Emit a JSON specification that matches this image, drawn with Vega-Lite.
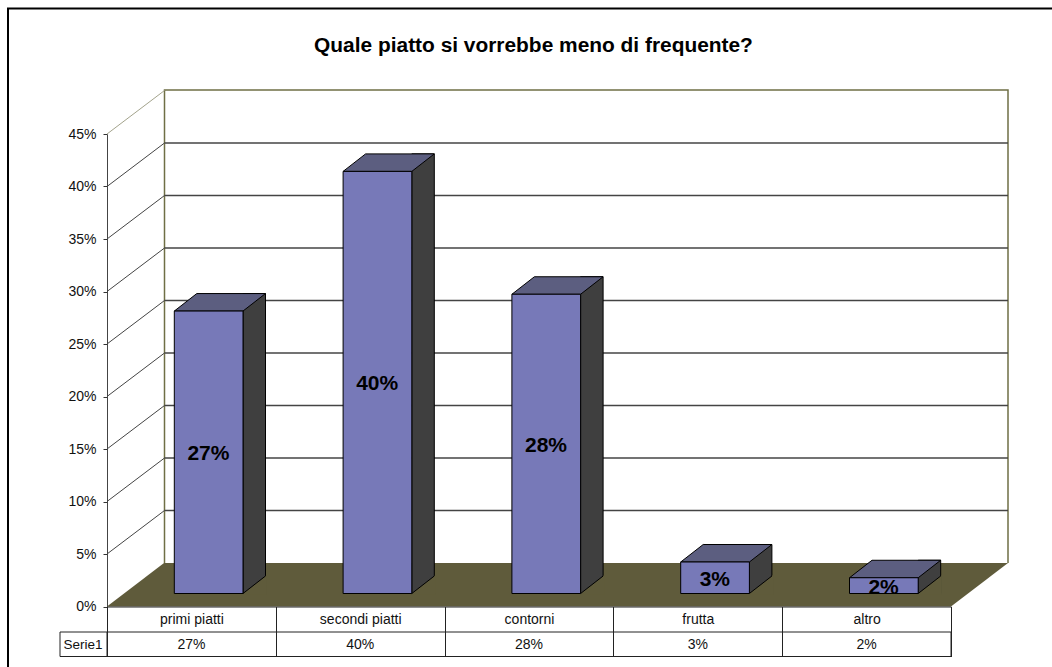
{
"$schema":"https://vega.github.io/schema/vega-lite/v6.json",
"width":844,"height":472.5,
"autosize":"none",
"padding":{"left":107,"top":134,"right":101,"bottom":60.5},
"background":"white",
"config":{"view":{"stroke":null},"font":"Liberation Sans"},
"title":{"text":"Quale piatto si vorrebbe meno di frequente?","font":"Liberation Sans","fontSize":20.9,"fontWeight":"bold","color":"black","anchor":"middle","dx":4.5,"offset":-51},
"data":{"values":[
{"categoria":"primi piatti","valore":0.269,"etichetta":"27%"},
{"categoria":"secondi piatti","valore":0.402,"etichetta":"40%"},
{"categoria":"contorni","valore":0.285,"etichetta":"28%"},
{"categoria":"frutta","valore":0.03,"etichetta":"3%"},
{"categoria":"altro","valore":0.015,"etichetta":"2%"}
]},
"encoding":{
"x":{"field":"categoria","type":"nominal","sort":null,"title":null,
"scale":{"type":"band","domain":["primi piatti","secondi piatti","contorni","frutta","altro"],"paddingInner":0,"paddingOuter":0},
"axis":{"labelAngle":0,"tickBand":"extent","tickSize":50,"labelPadding":-44,"labelFont":"Liberation Sans","labelFontSize":14,"labelColor":"#111","tickColor":"#222","domainColor":"#222","tickWidth":1,"domainWidth":1,"zindex":1}},
"y":{"field":"valore","type":"quantitative","title":null,
"scale":{"domain":[0,0.45],"nice":false},
"axis":{"values":[0,0.05,0.1,0.15,0.2,0.25,0.3,0.35,0.4,0.45],"format":".0%","grid":false,"tickSize":4,"tickColor":"#333","domainColor":"#444","labelFont":"Liberation Sans","labelFontSize":14,"labelColor":"#111","labelPadding":7}}
},
"layer":[
{"data":{"values":[{"livello":0}]},
"mark":{"type":"point","shape":"M0 0L57 -43.5H901L844 0Z","size":4,"filled":true,"fill":"#5f5b3b","strokeWidth":0,"opacity":1},
"encoding":{"x":{"datum":"primi piatti","bandPosition":0},"y":{"field":"livello","type":"quantitative"}}},
{"data":{"values":[{"livello":0}]},
"mark":{"type":"point","shape":"M57.5 -43.5V-516.5H901V-43.5","size":4,"filled":false,"stroke":"#6f6f45","strokeWidth":1.5,"opacity":1},
"encoding":{"x":{"datum":"primi piatti","bandPosition":0},"y":{"field":"livello","type":"quantitative"}}},
{"data":{"values":[{"livello":0}]},
"mark":{"type":"point","shape":"M-99 61V-598H945","size":4,"filled":false,"stroke":"black","strokeWidth":2,"opacity":1},
"encoding":{"x":{"datum":"primi piatti","bandPosition":0},"y":{"field":"livello","type":"quantitative"}}},
{"data":{"values":[{"tacca":0.05},{"tacca":0.1},{"tacca":0.15},{"tacca":0.2},{"tacca":0.25},{"tacca":0.3},{"tacca":0.35},{"tacca":0.4}]},
"mark":{"type":"point","shape":"M57.5 -43.5H901","size":4,"filled":false,"stroke":"#444","strokeWidth":1.3,"opacity":1},
"encoding":{"x":{"datum":"primi piatti","bandPosition":0},"y":{"field":"tacca","type":"quantitative"}}},
{"data":{"values":[{"tacca":0.05},{"tacca":0.1},{"tacca":0.15},{"tacca":0.2},{"tacca":0.25},{"tacca":0.3},{"tacca":0.35},{"tacca":0.4}]},
"mark":{"type":"point","shape":"M0 0L57.5 -43.5","size":4,"filled":false,"stroke":"#444","strokeWidth":1,"opacity":1},
"encoding":{"x":{"datum":"primi piatti","bandPosition":0},"y":{"field":"tacca","type":"quantitative"}}},
{"data":{"values":[{"tacca":0.45}]},
"mark":{"type":"point","shape":"M0 0L57.5 -43.5","size":4,"filled":false,"stroke":"#a3a38c","strokeWidth":1,"opacity":1},
"encoding":{"x":{"datum":"primi piatti","bandPosition":0},"y":{"field":"tacca","type":"quantitative"}}},
{"mark":{"type":"bar","width":22.5,"xOffset":62.85,"yOffset":-30.5,"y2Offset":-13,"fill":"#3f3f3f","stroke":"black","strokeWidth":1},
"encoding":{"y2":{"datum":0}}},
{"mark":{"type":"point","shape":"M34.35 0L56.85 -17.5L58 -18.5V0.7H34Z","size":4,"filled":true,"fill":"#5f5b3b","strokeWidth":0,"xOffset":17.25,"yOffset":-13,"opacity":1},
"encoding":{"y":{"datum":0}}},
{"mark":{"type":"point","shape":"M34.35 0L56.85 -17.5","size":4,"filled":false,"stroke":"black","strokeWidth":1,"xOffset":17.25,"yOffset":-13,"opacity":1},
"encoding":{"y":{"datum":0}}},
{"mark":{"type":"point","shape":"M-34.35 0L-11.85 -17.5H56.85L34.35 0Z","size":4,"filled":true,"fill":"#5c5e80","stroke":"black","strokeWidth":1,"xOffset":17.25,"yOffset":-13,"opacity":1}},
{"mark":{"type":"bar","width":68.7,"xOffset":17.25,"yOffset":-13,"y2Offset":-13,"fill":"#7779b8","stroke":"black","strokeWidth":1},
"encoding":{"y2":{"datum":0}}},
{"transform":[{"calculate":"datum.valore/2","as":"centro"}],
"mark":{"type":"text","font":"Liberation Sans","fontSize":21,"fontWeight":"bold","color":"black","xOffset":17,"yOffset":-11,"baseline":"middle"},
"encoding":{"y":{"field":"centro","type":"quantitative"},"text":{"field":"etichetta"}}},
{"data":{"values":[{"livello":0}]},
"mark":{"type":"point","shape":"M-47 25.5H844V50H-47ZM0 25.5V50","size":4,"filled":false,"stroke":"#222","strokeWidth":1,"opacity":1},
"encoding":{"x":{"datum":"primi piatti","bandPosition":0},"y":{"field":"livello","type":"quantitative"}}},
{"mark":{"type":"text","font":"Liberation Sans","fontSize":14,"color":"#111","dy":38,"baseline":"middle"},
"encoding":{"y":{"datum":0},"text":{"field":"etichetta"}}},
{"data":{"values":[{"livello":0,"etichetta":"Serie1"}]},
"mark":{"type":"text","font":"Liberation Sans","fontSize":13.5,"color":"#111","dx":-24,"dy":38,"baseline":"middle"},
"encoding":{"x":{"datum":"primi piatti","bandPosition":0},"y":{"field":"livello","type":"quantitative"},"text":{"field":"etichetta"}}}
]
}
